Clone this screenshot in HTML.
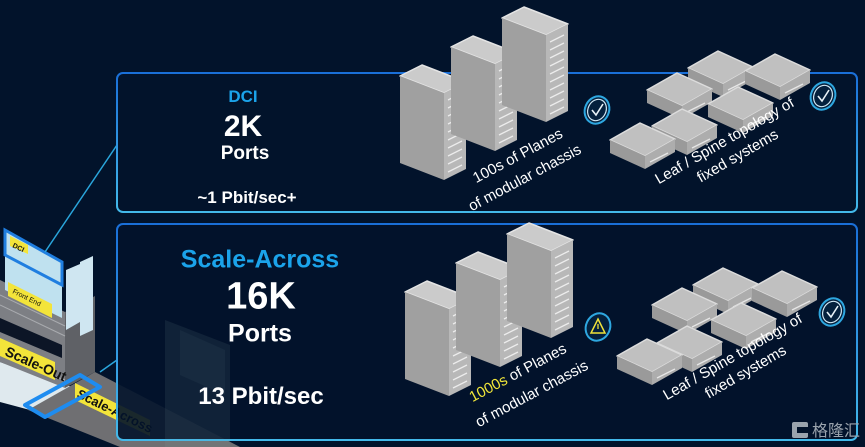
<!DOCTYPE html>
<html><head><meta charset="utf-8"><style>
html,body{margin:0;padding:0;background:#02132b;}
body{width:865px;height:447px;overflow:hidden;position:relative;font-family:"Liberation Sans",sans-serif;}
svg{position:absolute;left:0;top:0;}
.t{position:absolute;font-weight:bold;color:#fff;text-align:center;white-space:nowrap;transform:translate(-50%,-50%);}
</style></head><body>
<svg width="865" height="447" viewBox="0 0 865 447">
<defs>
<linearGradient id="bd" x1="0" y1="0" x2="0" y2="1"><stop offset="0" stop-color="#1a6fd8"/><stop offset="1" stop-color="#43b9ea"/></linearGradient>
<g id="tower">
  <polygon points="0,14 22,3 66,20 44,31" fill="#cbcbcb" stroke="#e4e4e4" stroke-width="1.5" stroke-linejoin="round"/>
  <polygon points="0,14 44,31 44,118 0,101" fill="#a0a0a0"/>
  <polygon points="44,31 66,20 66,107 44,118" fill="#b8b8b8"/>
  <g stroke="#ececec" stroke-width="1.3">
    <line x1="48" y1="38" x2="62" y2="31"/><line x1="48" y1="46" x2="62" y2="39"/><line x1="48" y1="54" x2="62" y2="47"/>
    <line x1="48" y1="62" x2="62" y2="55"/><line x1="48" y1="70" x2="62" y2="63"/><line x1="48" y1="78" x2="62" y2="71"/>
    <line x1="48" y1="86" x2="62" y2="79"/><line x1="48" y1="94" x2="62" y2="87"/><line x1="48" y1="102" x2="62" y2="95"/>
    <line x1="48" y1="110" x2="62" y2="103"/>
  </g>
</g>
<g id="flat">
  <polygon points="0,18 30,1 65,17 35,34" fill="#c0c0c0" stroke="#dcdcdc" stroke-width="1.5" stroke-linejoin="round"/>
  <polygon points="0,18 35,34 35,47 0,31" fill="#9a9a9a"/>
  <polygon points="35,34 65,17 65,30 35,47" fill="#adadad"/>
  <line x1="40" y1="40" x2="58" y2="31" stroke="#e6e6e6" stroke-width="1.3"/>
</g>
<g id="chk">
  <ellipse cx="0" cy="0" rx="12" ry="14" transform="rotate(25)" fill="#04203d" stroke="#2ea7e0" stroke-width="2"/>
  <ellipse cx="0" cy="0" rx="9" ry="11" transform="rotate(25)" fill="none" stroke="#cfe6f3" stroke-width="1.2"/>
  <polyline points="-5,0 -1,5 6,-6" fill="none" stroke="#e8f2f8" stroke-width="1.6"/>
</g>
</defs>

<polygon points="0,362 95,395 60,418 0,402" fill="#dfe9ee"/>
<polygon points="28,410 95,372 240,447 120,447" fill="#6f6f72"/>
<polygon points="0,280 65,312 65,388 0,362" fill="#7d7f84"/>
<polygon points="65,312 95,296 95,372 65,388" fill="#5f6166"/>
<g stroke="#a9abaf" stroke-width="1">
<line x1="0" y1="295" x2="65" y2="326"/><line x1="0" y1="305" x2="65" y2="336"/><line x1="0" y1="355" x2="65" y2="380"/>
</g>
<polygon points="0,318 62,345 62,358 0,332" fill="#0c1526"/>
<polygon points="5,230 62,262 62,318 5,290" fill="#bfe1ef" />
<polygon points="5,230 62,262 62,285 5,255" fill="none" stroke="#1f7ee0" stroke-width="3"/>
<polygon points="66,270 80,264 80,322 66,330" fill="#cfe6f1"/>
<polygon points="80,262 93,256 93,330 80,336" fill="#cfe6f1"/>
<polygon points="10,236 28,245 28,254 10,246" fill="#f3e43a"/>
<polygon points="8,282 52,304 52,318 8,296" fill="#f3e43a"/>
<polygon points="0,338 55,362 55,380 0,356" fill="#f3e43a"/>
<polygon points="75,383 150,420 150,436 75,400" fill="#f3e43a"/>
<text x="4" y="355" font-size="14" font-weight="bold" fill="#111" transform="rotate(24 4 355)">Scale-Out</text>
<text x="76" y="397" font-size="13" font-weight="bold" fill="#111" transform="rotate(26 76 397)">Scale-Across</text>
<text x="12" y="247" font-size="7" font-weight="bold" fill="#111" transform="rotate(26 12 247)">DCI</text>
<text x="12" y="293" font-size="7" fill="#111" transform="rotate(26 12 293)">Front End</text>
<polygon points="25,405 80,375 100,387 45,417" fill="none" stroke="#1e8cf0" stroke-width="4" stroke-linejoin="round"/>
<line x1="117" y1="145" x2="45" y2="252" stroke="#2aa6dc" stroke-width="1.5"/>
<line x1="117" y1="360" x2="100" y2="372" stroke="#2aa6dc" stroke-width="1.5"/>

<rect x="117" y="73" width="740" height="139" rx="6" fill="#02132b" stroke="url(#bd)" stroke-width="2"/>
<rect x="117" y="224" width="740" height="216" rx="6" fill="rgba(2,19,43,0.9)" stroke="url(#bd)" stroke-width="2"/>

<g opacity="0.1">
<polygon points="165,320 230,345 230,447 165,447" fill="#8aa"/>
<polygon points="180,330 225,350 225,395 180,375" fill="#cfe"/>
</g>

<use href="#tower" x="400" y="62"/>
<use href="#tower" x="451" y="33"/>
<use href="#tower" x="502" y="4"/>
<use href="#flat" x="688" y="50"/>
<use href="#flat" x="745" y="53"/>
<use href="#flat" x="647" y="72"/>
<use href="#flat" x="708" y="86"/>
<use href="#flat" x="652" y="108"/>
<use href="#flat" x="610" y="122"/>
<use href="#chk" x="597" y="110"/>
<use href="#chk" x="823" y="96"/>

<use href="#tower" x="405" y="278"/>
<use href="#tower" x="456" y="249"/>
<use href="#tower" x="507" y="220"/>
<use href="#flat" x="693" y="267"/>
<use href="#flat" x="752" y="270"/>
<use href="#flat" x="652" y="287"/>
<use href="#flat" x="711" y="302"/>
<use href="#flat" x="657" y="325"/>
<use href="#flat" x="617" y="338"/>
<g transform="translate(598,327)">
  <ellipse cx="0" cy="0" rx="12" ry="14" transform="rotate(25)" fill="#04203d" stroke="#2ea7e0" stroke-width="2"/>
  <polygon points="0,-8 7,6 -7,6" fill="none" stroke="#f0e23a" stroke-width="1.5"/>
  <line x1="0" y1="-3" x2="0" y2="2" stroke="#f0e23a" stroke-width="1.3"/>
</g>
<use href="#chk" x="832" y="312"/>

<g font-size="15" fill="#fff" font-family="Liberation Sans, sans-serif">
<text x="520" y="160" text-anchor="middle" transform="rotate(-28 520 160)">100s of Planes</text>
<text x="527" y="182" text-anchor="middle" transform="rotate(-28 527 182)">of modular chassis</text>
<text x="727" y="145" text-anchor="middle" transform="rotate(-30 727 145)">Leaf / Spine topology of</text>
<text x="740" y="160" text-anchor="middle" transform="rotate(-30 740 160)">fixed systems</text>
<text x="520" y="377" text-anchor="middle" transform="rotate(-28 520 377)"><tspan fill="#f0e63a">1000s</tspan> of Planes</text>
<text x="534" y="398" text-anchor="middle" transform="rotate(-28 534 398)">of modular chassis</text>
<text x="735" y="361" text-anchor="middle" transform="rotate(-30 735 361)">Leaf / Spine topology of</text>
<text x="748" y="376" text-anchor="middle" transform="rotate(-30 748 376)">fixed systems</text>
</g>
<g transform="translate(792,422)">
  <rect x="0" y="0" width="16" height="16" rx="2" fill="#9aa3ad"/>
  <rect x="5" y="5" width="11" height="6" fill="#02132b"/>
  <text x="20" y="14" font-size="16" fill="#9aa3ad" font-family="Liberation Sans, Noto Sans CJK SC, sans-serif">格隆汇</text>
</g>
</svg>

<div class="t" style="left:243px;top:97px;font-size:17px;color:#1ba3ea;">DCI</div>
<div class="t" style="left:243px;top:127px;font-size:30px;">2K</div>
<div class="t" style="left:245px;top:154px;font-size:19px;">Ports</div>
<div class="t" style="left:247px;top:198px;font-size:17px;">~1 Pbit/sec+</div>
<div class="t" style="left:260px;top:260px;font-size:25px;color:#1ba3ea;">Scale-Across</div>
<div class="t" style="left:261px;top:297px;font-size:38px;">16K</div>
<div class="t" style="left:260px;top:334px;font-size:25px;">Ports</div>
<div class="t" style="left:261px;top:397px;font-size:24px;">13 Pbit/sec</div>
</body></html>
